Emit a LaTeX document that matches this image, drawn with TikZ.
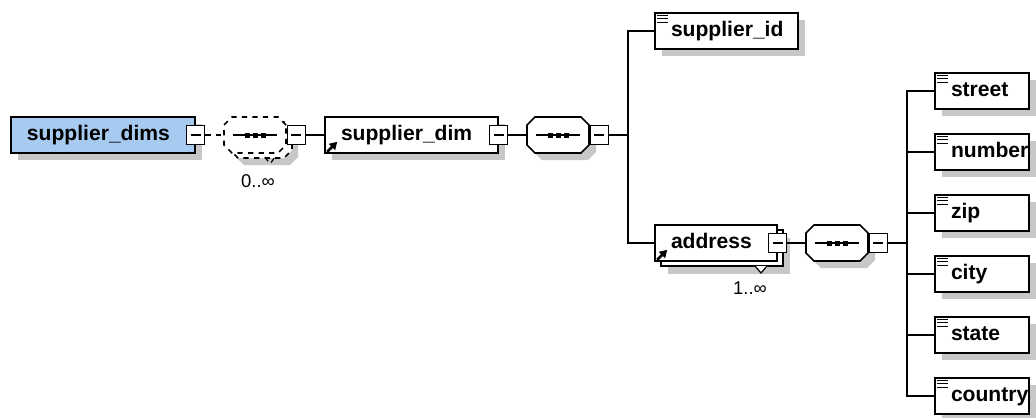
\documentclass[tikz,border=0pt]{standalone}
\usepackage{fontspec}
\setmainfont{Liberation Sans}
\usetikzlibrary{arrows.meta, positioning, shapes.misc, shadows}
\definecolor{rootblue}{RGB}{166,202,240}
\newdimen\pxu \pxu=0.02cm

\begin{document}
\begin{tikzpicture}[x=0.02cm, y=-0.02cm, >=Stealth, line width=.8pt,
  elem/.style={draw, fill=white, line width=.9pt, minimum height=36\pxu, inner xsep=16\pxu, inner ysep=0pt,
    text height=9pt, text depth=3pt, font=\bfseries\fontsize{12}{14}\selectfont,
    execute at begin node={\hbox to \dimexpr#1\pxu-32\pxu\relax\bgroup},
    execute at end node={\hss\egroup}},
  shd/.style={drop shadow={shadow xshift=#1\pxu, shadow yshift=-#1\pxu, fill=black!22, opacity=1}},
  shd/.default=7,
  multi/.style={copy shadow={shadow xshift=6\pxu, shadow yshift=-5\pxu, draw=black, fill=white, line width=.9pt, #1}},
  multi/.default={},
  seq/.style={chamfered rectangle, chamfered rectangle xsep=4\pxu, chamfered rectangle ysep=4\pxu,
    draw, fill=white, line width=.9pt, inner xsep=27\pxu, inner ysep=14\pxu},
  minus/.style={draw, fill=white, line width=.7pt, minimum width=18\pxu, minimum height=19\pxu, inner sep=0pt,
    node contents={\rule{10\pxu}{.7pt}}},
  occurs/.style={font=\fontsize{10.5}{12}\selectfont},
  icon/.style={line width=.7pt}]
  \useasboundingbox (0,0) rectangle (1036,417);

  % root and first sequence
  \node[elem=184, shd, fill=rootblue] (dims) at (103,135) {supplier\_dims};
  \node (dims-m) [minus, at={(dims.east)}];
  \node[seq, dashed, shd=12, multi=dashed] (seq0) at (255,135) {};
  \node (seq0-m) [minus, right=0pt of seq0];
  \node[occurs] (occ0) at (258,181) {0..∞};
  \draw[dashed] (dims-m) -- (seq0);

  % supplier_dim
  \node[elem=173, shd] (sdim) at (411.5,135) {supplier\_dim};
  \node (sdim-m) [minus, at={(sdim.east)}];
  \node[seq, shd] (seq1) at (558,135) {};
  \node (seq1-m) [minus, right=0pt of seq1];
  \coordinate (fork1) at (628,135);
  \draw (seq0-m) -- (sdim);
  \draw (sdim-m) -- (seq1);
  \draw (seq1-m) -- (fork1);

  \node[elem=143, shd] (supid) at (726.5,31) {supplier\_id};
  \node[elem=122, shd=13, multi] (addr) at (716,243) {address};
  \node (addr-m) [minus, at={(addr.east)}];
  \node[occurs] (occ1) at (750,288) {1..∞};
  \draw (fork1) |- (supid);
  \draw (fork1) |- (addr);

  % address fields
  \node[seq, shd] (seq2) at (837,243) {};
  \node (seq2-m) [minus, right=0pt of seq2];
  \coordinate (fork2) at (907,243);
  \draw (addr-m) -- (seq2);
  \draw (seq2-m) -- (fork2);
  \foreach \name [count=\i from 0] in {street,number,zip,city,state,country} {
    \node[elem=94, shd] (\name) at (982,91+61*\i) {\name};
    \draw (fork2) |- (\name);
  }

  % sequence marks
  \foreach \n in {seq0,seq1,seq2} {
    \draw[line width=.7pt] ([xshift=-22\pxu]\n.center) -- ([xshift=22\pxu]\n.center);
    \foreach \dx in {-8,0,8}
      \fill ([xshift=\dx\pxu]\n.center) +(-2.5,-2.5) rectangle +(2.5,2.5);
  }

  % icons
  \foreach \name in {supid,street,number,zip,city,state,country}
    \foreach \dy in {3,6.5,10}
      \draw[icon] ([shift={(3,\dy)}]\name.north west) -- ++(11,0);
  \foreach \name in {sdim,addr}
    \draw[-{Triangle[length=4.2pt,width=4.8pt]}, line width=1.5pt] ([shift={(3,-2)}]\name.south west) -- ++(10,-10);
  \draw[line width=.7pt, fill=white] (755,266) -- (761,273) -- (767,266);
  \draw[line width=.7pt, dashed] (265,157) -- (270,164) -- (275,157);
\end{tikzpicture}
\end{document}
